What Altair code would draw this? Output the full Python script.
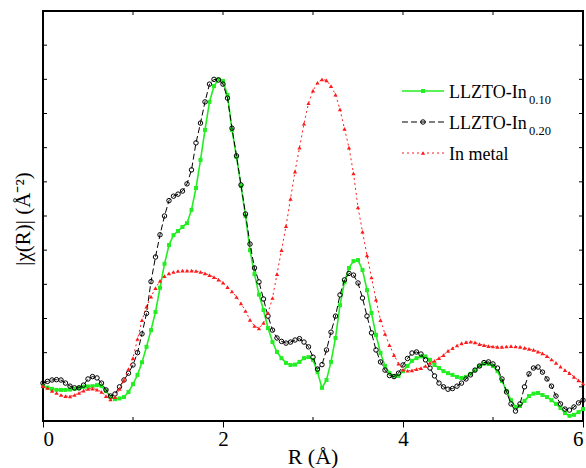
import altair as alt
import pandas as pd

FONT = "Liberation Serif"

# Radial distance grid (Å), 0.05 Å spacing from 0 to 6
r_grid = [round(0.05 * i, 2) for i in range(121)]

# |chi(R)| magnitudes, normalised to the main peak
llzto_010 = [
    0.102, 0.098, 0.094, 0.091, 0.091, 0.091, 0.092, 0.094, 0.097, 0.100,
    0.101, 0.102, 0.105, 0.102, 0.088, 0.070, 0.064, 0.066, 0.070, 0.085,
    0.108, 0.135, 0.172, 0.217, 0.266, 0.319, 0.390, 0.460, 0.515, 0.544,
    0.556, 0.568, 0.579, 0.618, 0.682, 0.764, 0.852, 0.934, 0.980, 1.000,
    0.995, 0.954, 0.852, 0.773, 0.688, 0.600, 0.500, 0.430, 0.370, 0.325,
    0.272, 0.231, 0.202, 0.184, 0.170, 0.164, 0.165, 0.173, 0.184, 0.187,
    0.179, 0.143, 0.097, 0.120, 0.173, 0.243, 0.339, 0.407, 0.448, 0.468,
    0.471, 0.442, 0.383, 0.316, 0.252, 0.199, 0.161, 0.140, 0.132, 0.132,
    0.146, 0.161, 0.176, 0.184, 0.189, 0.189, 0.179, 0.164, 0.155, 0.146,
    0.140, 0.135, 0.129, 0.126, 0.129, 0.138, 0.149, 0.161, 0.168, 0.167,
    0.161, 0.146, 0.117, 0.088, 0.061, 0.041, 0.044, 0.059, 0.073, 0.080,
    0.082, 0.076, 0.070, 0.061, 0.050, 0.038, 0.023, 0.015, 0.018, 0.026,
    0.035,
]

llzto_020 = [
    0.111, 0.116, 0.120, 0.121, 0.120, 0.111, 0.102, 0.097, 0.097, 0.105,
    0.123, 0.130, 0.126, 0.111, 0.091, 0.073, 0.079, 0.100, 0.120, 0.140,
    0.164, 0.200, 0.255, 0.315, 0.408, 0.480, 0.545, 0.600, 0.645, 0.658,
    0.664, 0.673, 0.694, 0.735, 0.814, 0.872, 0.934, 0.986, 1.000, 0.998,
    0.986, 0.945, 0.857, 0.776, 0.691, 0.606, 0.518, 0.448, 0.407, 0.357,
    0.307, 0.266, 0.243, 0.233, 0.228, 0.231, 0.237, 0.241, 0.231, 0.217,
    0.187, 0.152, 0.165, 0.208, 0.260, 0.307, 0.369, 0.413, 0.432, 0.427,
    0.404, 0.360, 0.307, 0.258, 0.208, 0.173, 0.149, 0.133, 0.130, 0.140,
    0.164, 0.183, 0.199, 0.202, 0.196, 0.179, 0.155, 0.132, 0.111, 0.100,
    0.093, 0.095, 0.102, 0.111, 0.123, 0.135, 0.149, 0.161, 0.171, 0.173,
    0.167, 0.155, 0.123, 0.085, 0.050, 0.029, 0.050, 0.100, 0.138, 0.155,
    0.158, 0.143, 0.123, 0.102, 0.073, 0.050, 0.035, 0.032, 0.041, 0.053,
    0.061,
]

in_metal = [
    0.102, 0.097, 0.088, 0.082, 0.076, 0.073, 0.072, 0.076, 0.082, 0.089,
    0.094, 0.095, 0.092, 0.085, 0.073, 0.063, 0.070, 0.094, 0.120, 0.152,
    0.184, 0.240, 0.295, 0.335, 0.364, 0.389, 0.410, 0.424, 0.432, 0.436,
    0.439, 0.440, 0.440, 0.440, 0.439, 0.436, 0.432, 0.427, 0.421, 0.414,
    0.405, 0.392, 0.379, 0.363, 0.344, 0.322, 0.296, 0.278, 0.271, 0.287,
    0.316, 0.360, 0.430, 0.500, 0.570, 0.650, 0.730, 0.800, 0.870, 0.930,
    0.967, 0.990, 1.000, 0.997, 0.980, 0.955, 0.912, 0.855, 0.800, 0.725,
    0.625, 0.554, 0.485, 0.420, 0.355, 0.295, 0.255, 0.222, 0.193, 0.168,
    0.150, 0.147, 0.148, 0.152, 0.155, 0.161, 0.170, 0.176, 0.184, 0.193,
    0.205, 0.213, 0.221, 0.227, 0.231, 0.232, 0.230, 0.225, 0.222, 0.219,
    0.218, 0.217, 0.217, 0.218, 0.219, 0.218, 0.217, 0.214, 0.211, 0.208,
    0.203, 0.198, 0.190, 0.180, 0.170, 0.159, 0.149, 0.140, 0.129, 0.119,
    0.110,
]

x_major = [0, 2, 4, 6]
x_all = [0, 1, 2, 3, 4, 5, 6]
x_minor = [1, 3, 5]
y_ticks = [0.1, 0.2, 0.3, 0.4, 0.5, 0.6, 0.7, 0.8, 0.9, 1.0, 1.1]

W, H = 540, 410

x_scale = alt.Scale(domain=[0, 6], nice=False, zero=False)
y_scale = alt.Scale(domain=[0, 1.2], nice=False, zero=False)
x_axis = alt.Axis(
    values=x_major, tickSize=6, tickWidth=1, tickColor="black", domain=False,
    grid=False, labelFont=FONT, labelFontSize=21, labelColor="black",
    labelPadding=1, title=None,
)


def xenc(field):
    return alt.X(f"{field}:Q", scale=x_scale, axis=x_axis)


def yenc(field):
    return alt.Y(f"{field}:Q", scale=y_scale, axis=None)


series = [
    {"name": "LLZTO-In", "sub": "0.10", "vals": llzto_010, "color": "#22ee22",
     "dash": None, "width": 1.6, "shape": "square", "filled": True, "size": 16, "ly": 80},
    {"name": "LLZTO-In", "sub": "0.20", "vals": llzto_020, "color": "black",
     "dash": [6, 3], "width": 1.0, "shape": "circle", "filled": False, "size": 20, "ly": 111},
    {"name": "In metal", "sub": "", "vals": in_metal, "color": "#ff1a1a",
     "dash": [2, 3], "width": 1.0, "shape": "triangle-up", "filled": True, "size": 18, "ly": 142},
]

one = pd.DataFrame({"k": [0]})
layers = []
legend_layers = []

for s in series:
    df = pd.DataFrame({"r": r_grid, "v": s["vals"]})
    line_kw = {"color": s["color"], "strokeWidth": s["width"]}
    if s["dash"]:
        line_kw["strokeDash"] = s["dash"]
    pt_kw = {"shape": s["shape"], "size": s["size"], "filled": s["filled"],
             "color": s["color"], "opacity": 1, "strokeWidth": 1}
    layers.append(alt.Chart(df).mark_line(**line_kw).encode(x=xenc("r"), y=yenc("v")))
    layers.append(alt.Chart(df).mark_point(**pt_kw).encode(x=xenc("r"), y=yenc("v")))

    ly = s["ly"]
    legend_layers.append(alt.Chart(one).mark_rule(**line_kw).encode(
        x=alt.value(359), x2=alt.value(401), y=alt.value(ly)))
    legend_layers.append(alt.Chart(one).mark_point(**pt_kw).encode(
        x=alt.value(380), y=alt.value(ly)))
    legend_layers.append(alt.Chart(one).mark_text(
        align="left", baseline="alphabetic", font=FONT, fontSize=18, color="black"
    ).encode(x=alt.value(406), y=alt.value(ly + 7), text=alt.value(s["name"])))
    if s["sub"]:
        legend_layers.append(alt.Chart(one).mark_text(
            align="left", baseline="alphabetic", font=FONT, fontSize=12.5, color="black"
        ).encode(x=alt.value(486), y=alt.value(ly + 13), text=alt.value(s["sub"])))

# inward ticks on the frame
yt = pd.DataFrame({"v": y_ticks})
xt_all = pd.DataFrame({"t": x_all})
xt_minor = pd.DataFrame({"t": x_minor})
tick_style = {"color": "black", "strokeWidth": 1}
ticks = [
    alt.Chart(yt).mark_rule(**tick_style).encode(y=yenc("v"), x=alt.value(0), x2=alt.value(4)),
    alt.Chart(yt).mark_rule(**tick_style).encode(y=yenc("v"), x=alt.value(W), x2=alt.value(W - 4)),
    alt.Chart(xt_all).mark_rule(**tick_style).encode(x=xenc("t"), y=alt.value(0), y2=alt.value(4)),
    alt.Chart(xt_minor).mark_rule(**tick_style).encode(x=xenc("t"), y=alt.value(H), y2=alt.value(H - 4)),
]

y_title = alt.Chart(one).mark_text(
    angle=270, align="center", baseline="middle", font=FONT, fontSize=21, color="black"
).encode(x=alt.value(-19), y=alt.value(208), text=alt.value("|χ(R)| (Å⁻²)"))

x_title = alt.Chart(one).mark_text(
    align="center", baseline="middle", font=FONT, fontSize=22, color="black"
).encode(x=alt.value(W / 2), y=alt.value(446), text=alt.value("R (Å)"))

chart = alt.layer(*ticks, *layers, *legend_layers, y_title, x_title).properties(
    width=W, height=H,
    autosize=alt.AutoSizeParams(type="none"),
    padding={"left": 43, "top": 11, "right": 3, "bottom": 47},
    background="white",
).configure_view(stroke="black", strokeWidth=2)

chart.save("out.html", embed_options={"renderer": "svg", "actions": False})
